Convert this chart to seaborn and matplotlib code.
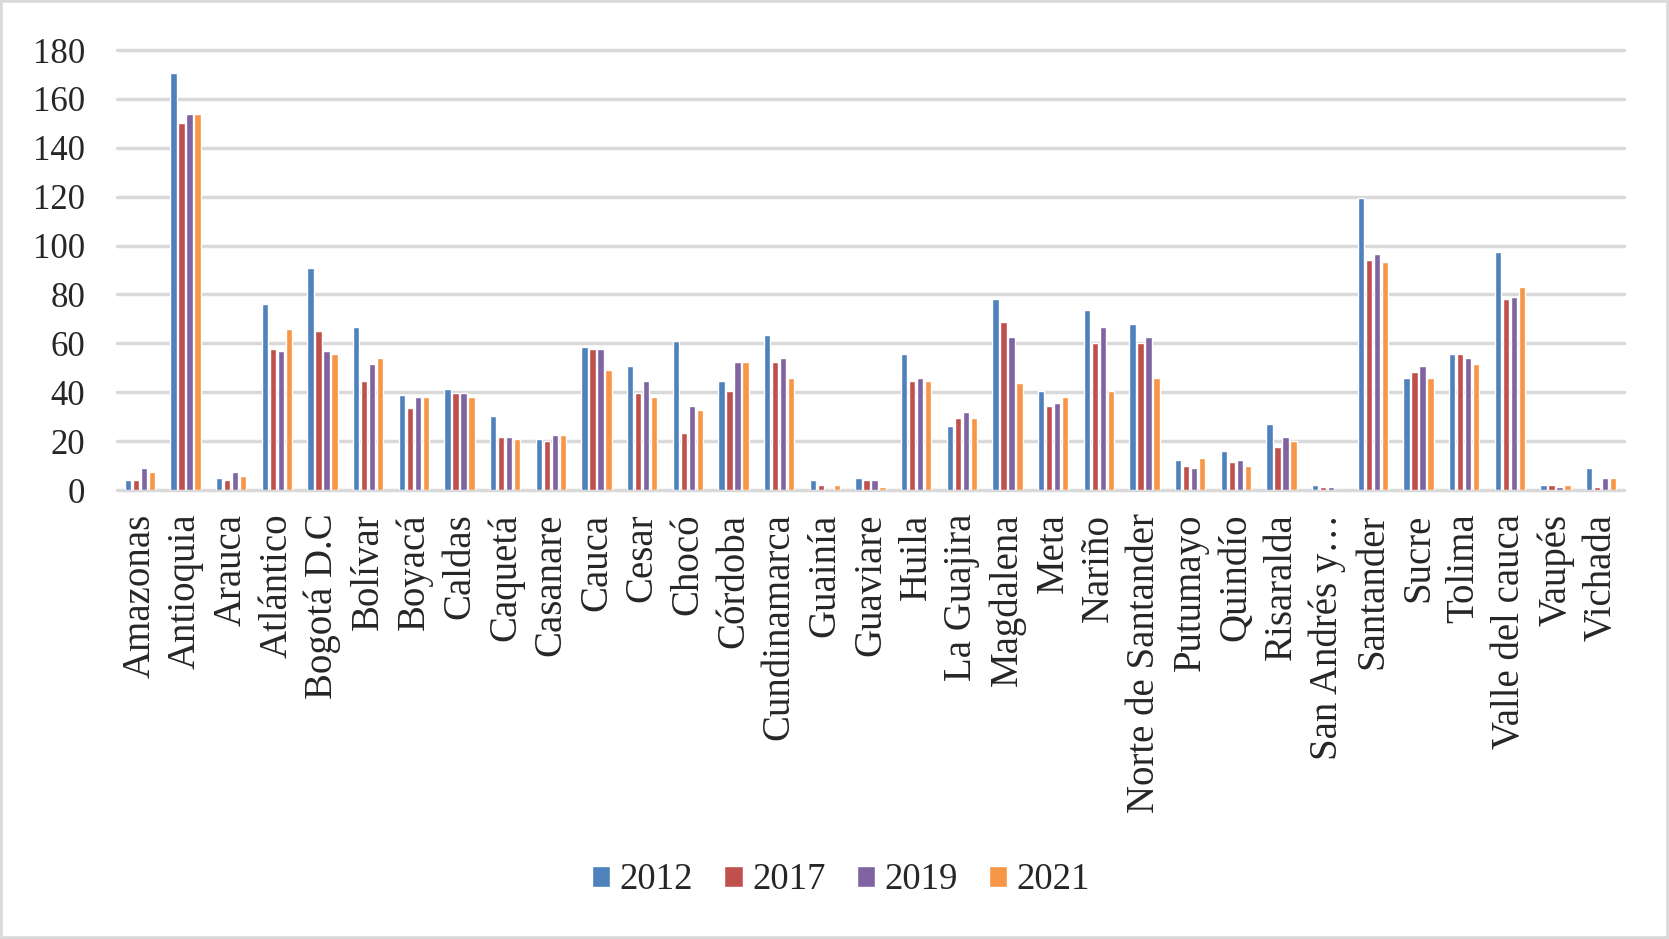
import numpy as np
import pandas as pd
import seaborn as sns
import matplotlib.pyplot as plt
from matplotlib.patches import Rectangle

# Departments and values per year
departments = [
    "Amazonas", "Antioquia", "Arauca", "Atlántico", "Bogotá D.C", "Bolívar",
    "Boyacá", "Caldas", "Caquetá", "Casanare", "Cauca", "Cesar", "Chocó",
    "Córdoba", "Cundinamarca", "Guainía", "Guaviare", "Huila", "La Guajira",
    "Magdalena", "Meta", "Nariño", "Norte de Santander", "Putumayo", "Quindío",
    "Risaralda", "San Andrés y…", "Santander", "Sucre", "Tolima",
    "Valle del cauca", "Vaupés", "Vichada",
]
years = ["2012", "2017", "2019", "2021"]

v2012 = [4.1, 170.7, 4.9, 76.1, 90.9, 66.7, 38.9, 41.3, 30.3, 20.9, 58.5, 50.8, 61.0,
         44.6, 63.4, 4.1, 4.9, 55.7, 26.2, 78.2, 40.5, 73.7, 67.9, 12.3, 16.0,
         27.0, 2.0, 119.5, 45.8, 55.7, 97.4, 2.0, 9.0]
v2017 = [4.0, 150.2, 4.1, 57.7, 65.1, 44.6, 33.6, 39.7, 21.7, 20.1, 57.7, 39.7, 23.3,
         40.5, 52.4, 2.0, 4.1, 44.6, 29.5, 68.8, 34.4, 60.2, 60.2, 9.8, 11.5,
         17.6, 1.2, 94.1, 48.3, 55.7, 78.2, 2.0, 1.2]
v2019 = [9.0, 153.9, 7.4, 56.9, 56.9, 51.6, 38.1, 39.7, 21.7, 22.5, 57.7, 44.6, 34.4,
         52.4, 54.0, 0.0, 4.1, 45.8, 31.9, 62.6, 35.6, 66.7, 62.6, 9.0, 12.3,
         21.7, 1.2, 96.6, 50.8, 54.0, 79.0, 1.2, 4.9]
v2021 = [7.4, 153.9, 5.7, 65.9, 55.7, 54.0, 38.1, 38.1, 20.9, 22.5, 49.1, 38.1, 32.7,
         52.4, 45.8, 2.0, 1.2, 44.6, 29.5, 43.8, 38.1, 40.5, 45.8, 13.1, 9.8,
         20.1, 0.0, 93.3, 45.8, 51.6, 83.1, 2.0, 4.9]

colors = ["#4F81BD", "#C0504D", "#8064A2", "#F79646"]

df = pd.DataFrame({
    "dep": departments * 4,
    "year": np.repeat(years, len(departments)),
    "val": v2012 + v2017 + v2019 + v2021,
})

sns.set_style("white")
plt.rcParams['font.family'] = ['Liberation Serif', 'DejaVu Serif']

fig = plt.figure(figsize=(16.69, 9.39), dpi=100)
ax = fig.add_axes([117 / 1669, 1 - 490 / 939, (1624 - 117) / 1669, 440 / 939])

sns.barplot(data=df, x="dep", y="val", hue="year", hue_order=years,
            palette=colors, width=0.7, gap=0.18, saturation=1, ax=ax)

handles, labels = ax.get_legend_handles_labels()
ax.get_legend().remove()

ax.set_ylim(0, 180)
ax.set_xlim(-0.5, len(departments) - 0.5)
ax.set_yticks(range(0, 181, 20))
ax.set_xlabel("")
ax.set_ylabel("")
for s in ax.spines.values():
    s.set_visible(False)
ax.yaxis.grid(True, color="#D9D9D9", linewidth=2.5)
ax.set_axisbelow(True)
for gl in ax.get_ygridlines():
    gl.set_clip_on(False)

ax.tick_params(axis="y", length=0, pad=23, labelsize=25)
ax.tick_params(axis="x", length=0, pad=17, labelsize=28, rotation=90)
for t in ax.get_xticklabels():
    t.set_va("top")

fig.legend(handles, labels, loc="center", bbox_to_anchor=(841 / 1669, 1 - 880 / 939),
           ncol=4, frameon=False, fontsize=26.5, handlelength=0.5, handleheight=0.5,
           handletextpad=0.25, columnspacing=0.85)

fig.patches.append(Rectangle((0, 0), 1, 1, transform=fig.transFigure, fill=False,
                             edgecolor="#D9D9D9", linewidth=4))

fig.savefig("out.png", dpi=100)
